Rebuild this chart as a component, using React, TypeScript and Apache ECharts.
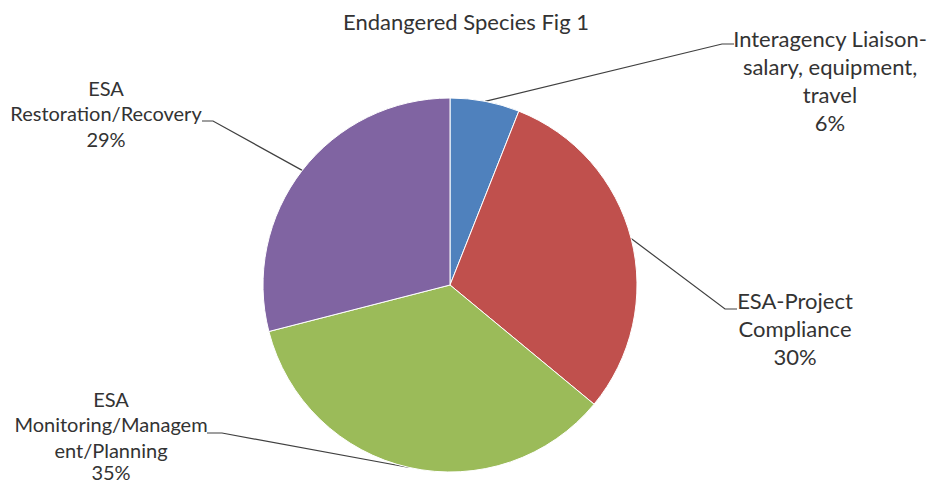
import React, { useEffect, useRef } from "react";
import * as echarts from "echarts";

const TITLE = "Endangered Species Fig 1";
const CATEGORIES = [
  "Interagency Liaison-\nsalary, equipment,\ntravel",
  "ESA-Project\nCompliance",
  "ESA\nMonitoring/Managem\nent/Planning",
  "ESA\nRestoration/Recovery",
];
const VALUES = [6, 30, 35, 29];
const COLORS = ["#4F81BD", "#C0504D", "#9BBB59", "#8064A2"];

// label layout (positions only)
const LABEL_LAYOUT = [
  { x: 830, y: 80, lh: 28, plh: 28, fs: 22, elbow: [722, 44], end: [734, 44] },
  { x: 795, y: 328, lh: 28, plh: 28, fs: 22, elbow: [725, 309], end: [737, 309] },
  { x: 111, y: 433.25, lh: 25.5, plh: 18, fs: 20, elbow: [222, 433], end: [207, 433] },
  { x: 106, y: 113, lh: 25.5, plh: 25.5, fs: 20, elbow: [213, 121], end: [202, 121] },
];

export default function App() {
  const ref = useRef<HTMLDivElement>(null);
  useEffect(() => {
    document.body.style.margin = "0";
    if (!ref.current) return;
    const chart = echarts.init(ref.current, null, { renderer: "svg" });
    const font = "Lato, 'Noto Sans', sans-serif";
    const textColor = "#333333";
    chart.setOption({
      animation: false,
      backgroundColor: "#ffffff",
      title: {
        text: TITLE,
        left: "center",
        top: 7,
        padding: 0,
        textStyle: {
          fontFamily: font,
          fontSize: 22,
          fontWeight: "normal",
          color: textColor,
          lineHeight: 28,
        },
      },
      series: [
        {
          type: "pie",
          center: [450, 285],
          radius: 187,
          startAngle: 90,
          clockwise: true,
          avoidLabelOverlap: false,
          itemStyle: { borderColor: "#ffffff", borderWidth: 1 },
          label: {
            show: true,
            position: "outside",
            formatter: "{b}\n{p|{d}%}",
            fontFamily: font,
            fontSize: 22,
            color: textColor,
            align: "center",
          },
          labelLine: {
            show: true,
            length: 20,
            length2: 10,
            smooth: false,
            lineStyle: { color: "#404040", width: 1.2 },
          },
          labelLayout: (params: any) => {
            const p = LABEL_LAYOUT[params.dataIndex];
            const pts = params.labelLinePoints;
            const res: any = {
              x: p.x,
              y: p.y,
              align: "center",
              verticalAlign: "middle",
            };
            if (pts && pts[0]) {
              res.labelLinePoints = [pts[0], p.elbow, p.end];
            }
            return res;
          },
          emphasis: { disabled: true },
          data: CATEGORIES.map((name, i) => ({
            name,
            value: VALUES[i],
            itemStyle: { color: COLORS[i] },
            label: {
              lineHeight: LABEL_LAYOUT[i].lh,
              fontSize: LABEL_LAYOUT[i].fs,
              rich: {
                p: {
                  fontFamily: font,
                  fontSize: LABEL_LAYOUT[i].fs,
                  color: textColor,
                  lineHeight: LABEL_LAYOUT[i].plh,
                  align: "center",
                },
              },
            },
          })),
        },
      ],
    });
    return () => chart.dispose();
  }, []);
  return <div ref={ref} style={{ width: 932, height: 482 }} />;
}
